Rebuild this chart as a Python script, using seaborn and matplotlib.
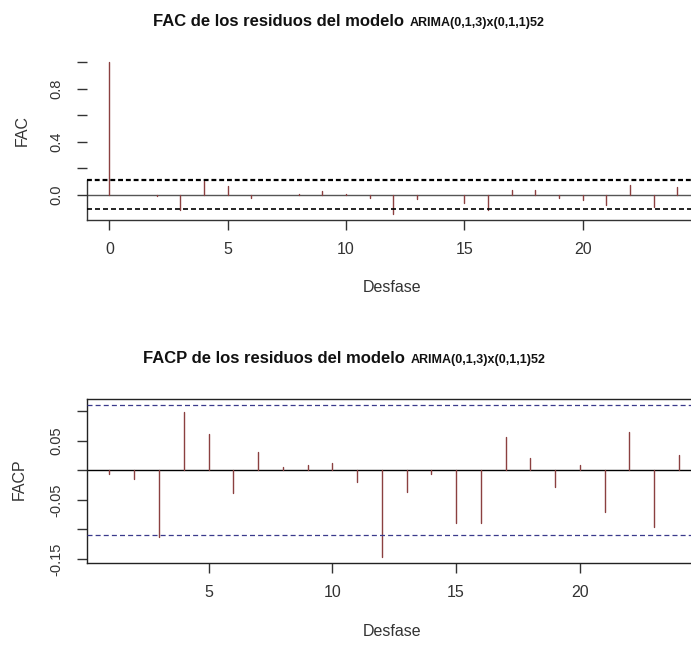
import matplotlib
matplotlib.use("Agg")
import matplotlib.pyplot as plt
import numpy as np
import pandas as pd
import seaborn as sns

# ---------------- data ----------------
acf_lags = list(range(0, 25))
acf_vals = [1.0, -0.005, -0.010, -0.116, 0.104, 0.063, -0.025, -0.005, 0.003,
            0.025, 0.002, -0.025, -0.146, -0.030, -0.003, -0.063, -0.113,
            0.033, 0.037, -0.025, -0.043, -0.080, 0.075, -0.096, 0.055]
pacf_lags = list(range(1, 25))
pacf_vals = [-0.007, -0.014, -0.112, 0.098, 0.062, -0.039, 0.031, 0.005,
             0.0085, 0.012, -0.020, -0.146, -0.037, -0.006, -0.089, -0.089,
             0.056, 0.020, -0.029, 0.009, -0.071, 0.064, -0.095, 0.025]
conf_limit = 0.11

top_title_main = "FAC de los residuos del modelo"
bot_title_main = "FACP de los residuos del modelo"
title_model = "ARIMA(0,1,3)x(0,1,1)52"
top_ylabel = "FAC"
bot_ylabel = "FACP"
xlabel = "Desfase"

top_xticks = [0, 5, 10, 15, 20]
top_yticks = [0.0, 0.2, 0.4, 0.6, 0.8, 1.0]
top_yticklabels = ["0.0", "", "0.4", "", "0.8", ""]
bot_xticks = [5, 10, 15, 20]
bot_yticks = [-0.15, -0.10, -0.05, 0.0, 0.05, 0.10]
bot_yticklabels = ["-0.15", "", "-0.05", "", "0.05", ""]

# ---------------- style ----------------
sns.set_style("white")
plt.rcParams['font.family'] = ['Liberation Sans', 'DejaVu Sans']
plt.rcParams['text.color'] = '#222222'

W, H = 691, 646
fig = plt.figure(figsize=(W / 100, H / 100), dpi=100)
fig.patch.set_facecolor("white")

def fx(px):
    return px / W

def fy(py):
    return 1 - py / H

stem_color = "#8b4040"

def stems(lags, vals):
    rows = []
    for l, v in zip(lags, vals):
        rows.append({"lag": l, "value": 0.0})
        rows.append({"lag": l, "value": v})
    return pd.DataFrame(rows)

# ---------------- top axes (ACF) ----------------
ax1 = fig.add_axes([fx(86.7), fy(220), fx(700.1) - fx(86.7), (220 - 56.4) / H])
sns.lineplot(data=stems(acf_lags, acf_vals), x="lag", y="value", units="lag",
             estimator=None, color=stem_color, lw=1.0, ax=ax1, legend=False)
ax1.axhline(0, color="#555555", lw=1.0, zorder=1)
ax1.axhline(conf_limit, color="black", lw=1.6, ls=(0, (2.2, 1.3)), zorder=3)
ax1.axhline(-conf_limit, color="black", lw=1.2, ls=(0, (3.0, 1.8)), zorder=3)
lo = min(acf_vals + [-conf_limit]); hi = max(acf_vals + [conf_limit])
r = hi - lo
ax1.set_ylim(lo - 0.04 * r, hi + 0.04 * r)
ax1.set_xlim(-0.96, 24.96)
ax1.spines['top'].set_visible(False)
ax1.spines['right'].set_visible(False)
ax1.spines['left'].set_bounds(lo - 0.04 * r, conf_limit)
for s in ax1.spines.values():
    s.set_color("#333333")
    s.set_linewidth(1.0)
ax1.set_xticks(top_xticks)
ax1.set_xticklabels([str(t) for t in top_xticks])
ax1.set_yticks(top_yticks)
ax1.set_yticklabels(top_yticklabels, rotation=90, va="center")
ax1.tick_params(axis="x", direction="out", length=7, width=1, pad=9,
                labelsize=11.5, colors="#333333", bottom=True)
ax1.tick_params(axis="y", direction="out", length=7, width=1, pad=10,
                labelsize=10.5, colors="#333333", left=True)
ax1.set_xlabel("")
ax1.set_ylabel("")

# ---------------- bottom axes (PACF) ----------------
ax2 = fig.add_axes([fx(86.7), fy(562.8), fx(701.7) - fx(86.7), (562.8 - 399) / H])
sns.lineplot(data=stems(pacf_lags, pacf_vals), x="lag", y="value", units="lag",
             estimator=None, color=stem_color, lw=1.0, ax=ax2, legend=False)
ax2.axhline(0, color="black", lw=1.0, zorder=1)
ax2.axhline(conf_limit, color="#3a3a8c", lw=0.9, ls=(0, (4.0, 2.5)), zorder=3)
ax2.axhline(-conf_limit, color="#3a3a8c", lw=0.9, ls=(0, (4.0, 2.5)), zorder=3)
lo2 = min(pacf_vals + [-conf_limit]); hi2 = max(pacf_vals + [conf_limit])
r2 = hi2 - lo2
ax2.set_ylim(lo2 - 0.04 * r2, hi2 + 0.04 * r2)
ax2.set_xlim(0.08, 24.92)
for s in ax2.spines.values():
    s.set_color("#222222")
    s.set_linewidth(1.0)
ax2.set_xticks(bot_xticks)
ax2.set_xticklabels([str(t) for t in bot_xticks])
ax2.set_yticks(bot_yticks)
ax2.set_yticklabels(bot_yticklabels, rotation=90, va="center")
ax2.tick_params(axis="x", direction="out", length=7, width=1, pad=9,
                labelsize=11.5, colors="#333333", bottom=True)
ax2.tick_params(axis="y", direction="out", length=7, width=1, pad=10,
                labelsize=10.5, colors="#333333", left=True)
ax2.set_xlabel("")
ax2.set_ylabel("")

# ---------------- texts ----------------
fig.text(fx(404), fy(26), top_title_main, ha="right", va="baseline",
         fontsize=12, fontweight="bold", color="#111111")
fig.text(fx(410), fy(26), title_model, ha="left", va="baseline",
         fontsize=9, fontweight="bold", color="#111111")
fig.text(fx(405), fy(363), bot_title_main, ha="right", va="baseline",
         fontsize=12, fontweight="bold", color="#111111")
fig.text(fx(411), fy(363), title_model, ha="left", va="baseline",
         fontsize=9, fontweight="bold", color="#111111")

fig.text(fx(22), fy(130), top_ylabel, rotation=90, ha="center", va="center",
         fontsize=11.5, color="#333333")
fig.text(fx(19), fy(479), bot_ylabel, rotation=90, ha="center", va="center",
         fontsize=11.5, color="#333333")
fig.text(fx(392), fy(288), xlabel, ha="center", va="center",
         fontsize=11.5, color="#333333")
fig.text(fx(392), fy(631), xlabel, ha="center", va="center",
         fontsize=11.5, color="#333333")

fig.savefig("out.png", dpi=100, facecolor="white")
